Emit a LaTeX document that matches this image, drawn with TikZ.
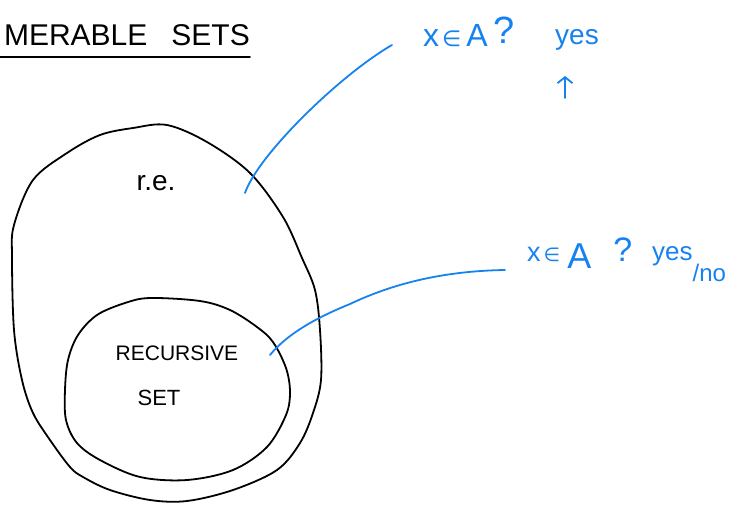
\documentclass[tikz,border=0pt]{standalone}
\usepackage{fontspec}
\setmainfont{Liberation Sans}
\newfontfamily\symfont{DejaVu Sans}
\usetikzlibrary{arrows.meta}
\definecolor{penblue}{RGB}{22,130,240}
\newcommand{\fs}[1]{\fontsize{#1}{#1}\selectfont}
\begin{document}
\begin{tikzpicture}[x=1pt,y=-1pt,
  ink/.style={line width=1.8pt, line cap=round, line join=round, black},
  blueink/.style={line width=1.8pt, line cap=round, line join=round, penblue},
  blk/.style={inner sep=0pt, text=black},
  bluetxt/.style={inner sep=0pt, text=penblue},
]
\useasboundingbox (0,0) rectangle (731,504);
\clip (0,0) rectangle (731,504);

% title
\node[blk, anchor=base east, font=\fs{30}] (title) at (250,45) {MERABLE\hspace{0.8em}SETS};
\draw[ink] (0,57) -- (250,57);

% outer blob (r.e.)
\draw[ink] plot[smooth cycle, tension=0.55] coordinates {
 (167,125) (207,142) (250,173) (283,217) (302,258) (315,290) (320,330) (321,380)
 (313,413) (300,443) (277,470) (233,490) (187,501) (150,500) (110,490) (83,477)
 (70,467) (50,440) (33,413) (22,380) (14,330) (12,257) (14,225) (33,180) (67,153)
 (100,135) (133,128)};

% inner blob (recursive set)
\draw[ink] plot[smooth cycle, tension=0.55] coordinates {
 (150,298) (200,301) (230,310) (257,327) (273,342) (286,368) (290,392) (286,415)
 (267,447) (233,470) (187,480) (140,477) (100,460) (77,443) (66,420) (65,390)
 (68,360) (78,335) (97,315) (125,303)};

\node[blk, anchor=base, font=\fs{28}] (re) at (156,190) {r.e.};
\node[blk, anchor=base, font=\fs{21}] (rec) at (177,360) {RECURSIVE};
\node[blk, anchor=base, font=\fs{22}] (set) at (159,405) {SET};

% questions
\node[bluetxt, anchor=base west, font=\fs{32}] (q1) at (423,46)
  {x\hspace{3pt}{\symfont\fs{22}∈}\hspace{5pt}A\hspace{6pt}\raisebox{3pt}{\fs{38}?}};
\node[bluetxt, anchor=base west, font=\fs{28}] (a1) at (555,44) {yes};

\node[bluetxt, anchor=base west, font=\fs{27}] (q2) at (527,261)
  {x\hspace{3pt}{\symfont\fs{19}∈}\hspace{7pt}{\fs{36}\raisebox{-7pt}{A}}\hspace{22pt}{\fs{34}?}};
\node[bluetxt, anchor=base west, font=\fs{26}] (a2) at (652,260)
  {yes\raisebox{-21pt}{\fs{24}/no}};

% connectors
\coordinate (c1) at (245,193);
\coordinate (c1e) at (392,45);
\draw[blueink] (c1) .. controls (258,155) and (340,75) .. (c1e);

\coordinate (c2) at (270,355);
\coordinate (m2) at (350,304);
\coordinate (c2e) at (505,270);
\draw[blueink] (c2) .. controls (288,333) and (318,317) .. (m2)
  .. controls (390,285) and (440,271) .. (c2e);

\coordinate (ab) at (565,98);
\coordinate (at) at (565,76);
\draw[blueink, -{Straight Barb[length=6pt,width=15pt]}] (ab) -- (at);
\end{tikzpicture}
\end{document}
